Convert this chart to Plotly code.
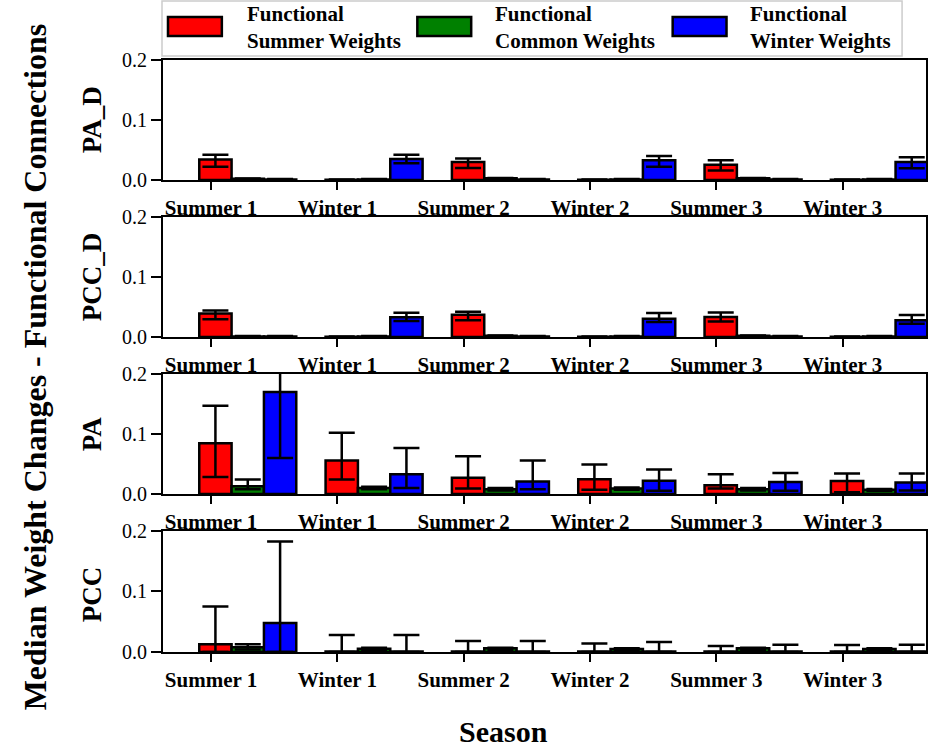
import plotly.graph_objects as go
from plotly.subplots import make_subplots

seasons = ["Summer 1", "Winter 1", "Summer 2", "Winter 2", "Summer 3", "Winter 3"]
panels = ["PA_D", "PCC_D", "PA", "PCC"]
series_names = ["Functional<br>Summer Weights", "Functional<br>Common Weights", "Functional<br>Winter Weights"]
series_colors = ["#ff0000", "#008000", "#0000ff"]

# ---- PA_D ----
pad_summer = [0.034, 0.0005, 0.030, 0.0005, 0.0255, 0.0005]
pad_summer_lo = [0.022, 0.0, 0.020, 0.0, 0.016, 0.0]
pad_summer_hi = [0.042, 0.001, 0.036, 0.001, 0.033, 0.001]
pad_common = [0.002, 0.001, 0.003, 0.001, 0.003, 0.001]
pad_common_lo = [0.0015, 0.0005, 0.0025, 0.0005, 0.0025, 0.0005]
pad_common_hi = [0.0025, 0.0015, 0.0035, 0.0015, 0.0035, 0.0015]
pad_winter = [0.001, 0.035, 0.001, 0.033, 0.001, 0.030]
pad_winter_lo = [0.0005, 0.028, 0.0005, 0.022, 0.0005, 0.0195]
pad_winter_hi = [0.0015, 0.042, 0.0015, 0.040, 0.0015, 0.038]

# ---- PCC_D ----
pccd_summer = [0.039, 0.0005, 0.037, 0.0005, 0.0335, 0.0005]
pccd_summer_lo = [0.0295, 0.0, 0.028, 0.0, 0.026, 0.0]
pccd_summer_hi = [0.044, 0.001, 0.042, 0.001, 0.041, 0.001]
pccd_common = [0.001, 0.001, 0.002, 0.001, 0.002, 0.001]
pccd_common_lo = [0.0005, 0.0005, 0.0015, 0.0005, 0.0015, 0.0005]
pccd_common_hi = [0.0015, 0.0015, 0.0025, 0.0015, 0.0025, 0.0015]
pccd_winter = [0.001, 0.033, 0.001, 0.0305, 0.001, 0.028]
pccd_winter_lo = [0.0005, 0.0267, 0.0005, 0.025, 0.0005, 0.022]
pccd_winter_hi = [0.0015, 0.0405, 0.0015, 0.040, 0.0015, 0.0367]

# ---- PA ----
pa_summer = [0.0845, 0.056, 0.027, 0.0245, 0.0145, 0.0217]
pa_summer_lo = [0.0285, 0.024, 0.009, 0.007, 0.009, 0.003]
pa_summer_hi = [0.147, 0.102, 0.063, 0.049, 0.033, 0.034]
pa_common = [0.013, 0.010, 0.008, 0.009, 0.008, 0.007]
pa_common_lo = [0.008, 0.008, 0.006, 0.007, 0.006, 0.005]
pa_common_hi = [0.024, 0.012, 0.010, 0.011, 0.010, 0.0085]
pa_winter = [0.170, 0.033, 0.021, 0.022, 0.020, 0.019]
pa_winter_lo = [0.060, 0.010, 0.008, 0.0055, 0.0055, 0.006]
pa_winter_hi = [0.26, 0.0765, 0.056, 0.041, 0.035, 0.034]

# ---- PCC ----
pcc_summer = [0.0128, 0.001, 0.001, 0.001, 0.001, 0.001]
pcc_summer_lo = [0.0, 0.0, 0.0, 0.0, 0.0, 0.0]
pcc_summer_hi = [0.0754, 0.028, 0.018, 0.014, 0.010, 0.0117]
pcc_common = [0.008, 0.0055, 0.006, 0.005, 0.006, 0.005]
pcc_common_lo = [0.004, 0.003, 0.003, 0.003, 0.003, 0.003]
pcc_common_hi = [0.013, 0.007, 0.007, 0.006, 0.007, 0.006]
pcc_winter = [0.048, 0.001, 0.001, 0.001, 0.001, 0.001]
pcc_winter_lo = [0.0, 0.0, 0.0, 0.0, 0.0, 0.0]
pcc_winter_hi = [0.1825, 0.028, 0.018, 0.0167, 0.012, 0.012]

y_ticks = [0.0, 0.1, 0.2]
y_tick_text = ["0.0", "0.1", "0.2"]

panel_data = [
    [(pad_summer, pad_summer_lo, pad_summer_hi), (pad_common, pad_common_lo, pad_common_hi), (pad_winter, pad_winter_lo, pad_winter_hi)],
    [(pccd_summer, pccd_summer_lo, pccd_summer_hi), (pccd_common, pccd_common_lo, pccd_common_hi), (pccd_winter, pccd_winter_lo, pccd_winter_hi)],
    [(pa_summer, pa_summer_lo, pa_summer_hi), (pa_common, pa_common_lo, pa_common_hi), (pa_winter, pa_winter_lo, pa_winter_hi)],
    [(pcc_summer, pcc_summer_lo, pcc_summer_hi), (pcc_common, pcc_common_lo, pcc_common_hi), (pcc_winter, pcc_winter_lo, pcc_winter_hi)],
]

SERIF = "Liberation Serif"
bar_width = 0.256
offsets = [0.035, 0.291, 0.547]

fig = make_subplots(rows=4, cols=1)
idx = list(range(len(seasons)))

for r, pdata in enumerate(panel_data, start=1):
    for s, (vals, lo, hi) in enumerate(pdata):
        xs = [i + offsets[s] for i in idx]
        plus = [h - v for v, h in zip(vals, hi)]
        minus = [v - l for v, l in zip(vals, lo)]
        fig.add_trace(go.Bar(
            x=xs, y=vals, width=bar_width, name=series_names[s],
            marker=dict(color=series_colors[s], line=dict(color="black", width=2.5)),
            error_y=dict(type="data", symmetric=False, array=plus, arrayminus=minus,
                         color="black", thickness=2.5, width=13),
            showlegend=False,
        ), row=r, col=1)

domains = [[0.7973, 1.0], [0.5321, 0.7348], [0.2669, 0.4696], [0.0, 0.2044]]
for r in range(1, 5):
    xa = "xaxis" if r == 1 else f"xaxis{r}"
    ya = "yaxis" if r == 1 else f"yaxis{r}"
    fig.layout[xa].update(
        range=[-0.38, 5.66], tickmode="array", tickvals=idx, ticktext=seasons,
        showline=True, linecolor="black", linewidth=2, mirror=True,
        ticks="outside", ticklen=8, tickwidth=2, tickcolor="black",
        showgrid=False, zeroline=False,
        tickfont=dict(family=SERIF, size=21, color="black", weight="bold"),
    )
    fig.layout[ya].update(
        domain=domains[r - 1], range=[0, 0.2], tickmode="array", tickvals=y_ticks, ticktext=y_tick_text,
        showline=True, linecolor="black", linewidth=2, mirror=True,
        ticks="outside", ticklen=10, tickwidth=2, tickcolor="black",
        showgrid=False, zeroline=False,
        tickfont=dict(family=SERIF, size=20, color="black"),
    )

L, R, T, B = 163, 8, 60, 98
W, H = 936, 750
pw = W - L - R
ph = H - T - B

def px_x(px):
    return (px - L) / pw

def px_y(py):
    return (H - B - py) / ph

annotations = []
# panel labels
centers = [120, 277, 434, 594]
for name, cy in zip(panels, centers):
    annotations.append(dict(text=name, xref="paper", yref="paper", x=px_x(92), y=px_y(cy),
                            textangle=-90, showarrow=False, xanchor="center", yanchor="middle",
                            font=dict(family=SERIF, size=27, color="black", weight="bold")))
# overall y title
annotations.append(dict(text="Median Weight Changes - Functional Connections", xref="paper", yref="paper",
                        x=px_x(35), y=px_y(367), textangle=-90, showarrow=False,
                        xanchor="center", yanchor="middle",
                        font=dict(family=SERIF, size=32, color="black", weight="bold")))
# x title
annotations.append(dict(text="Season", xref="paper", yref="paper", x=px_x(504), y=px_y(731),
                        showarrow=False, xanchor="center", yanchor="middle",
                        font=dict(family=SERIF, size=30, color="black", weight="bold")))

shapes = []
# legend box
shapes.append(dict(type="rect", xref="paper", yref="paper", x0=px_x(162), x1=px_x(904),
                   y0=px_y(56), y1=px_y(1), line=dict(color="#cccccc", width=1.5), fillcolor="white",
                   layer="above"))
sw_x = [168, 418, 674]
txt_x = [245, 494, 750]
for s in range(3):
    shapes.append(dict(type="rect", xref="paper", yref="paper", x0=px_x(sw_x[s]), x1=px_x(sw_x[s] + 54),
                       y0=px_y(36), y1=px_y(17), line=dict(color="black", width=2.5),
                       fillcolor=series_colors[s], layer="above"))
    annotations.append(dict(text=series_names[s], xref="paper", yref="paper", x=px_x(txt_x[s]), y=px_y(27),
                            showarrow=False, xanchor="left", yanchor="middle", align="left",
                            font=dict(family=SERIF, size=21, color="black", weight="bold")))

fig.update_layout(
    width=W, height=H, margin=dict(l=L, r=R, t=T, b=B),
    paper_bgcolor="white", plot_bgcolor="white",
    barmode="overlay", showlegend=False,
    annotations=annotations, shapes=shapes,
)

fig.write_html("out.html")
